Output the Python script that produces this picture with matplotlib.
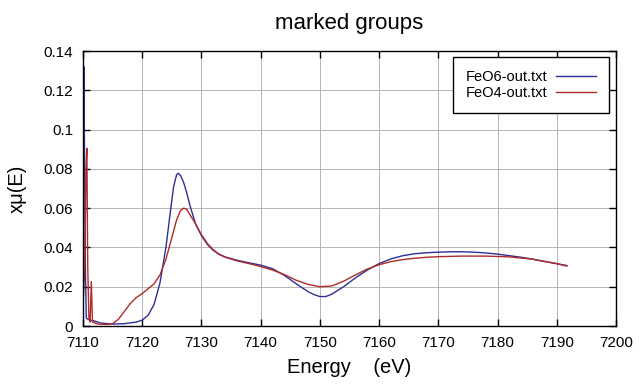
# XANES plot for the two marked groups (FeO6 vs FeO4)
import matplotlib
matplotlib.use('Agg')
import matplotlib.pyplot as plt

plt.rcParams['font.family'] = ['Liberation Sans', 'DejaVu Sans']

# FeO6-out.txt
feo6_energy = [7110.0, 7110.08, 7110.15, 7110.25, 7110.4, 7110.55, 7110.8, 7111.2, 7112, 7113,
               7115, 7117, 7119, 7120, 7121, 7122, 7123, 7124, 7124.7, 7125.3,
               7125.8, 7126.1, 7126.5, 7127, 7127.5, 7128, 7128.5, 7129, 7130, 7131,
               7132, 7133, 7134, 7136, 7138, 7140, 7142, 7144, 7146, 7148,
               7149, 7150, 7151, 7152, 7154, 7156, 7158, 7160, 7162, 7164,
               7166, 7168, 7170, 7172, 7174, 7176, 7178, 7180, 7182, 7184,
               7186, 7188, 7190, 7191.7]
feo6_mu = [0.030, 0.110, 0.132, 0.090, 0.030, 0.004, 0.0035, 0.003, 0.0025, 0.0015,
           0.0010, 0.0012, 0.0020, 0.0030, 0.0055, 0.011, 0.022, 0.040, 0.057, 0.071,
           0.0770, 0.0778, 0.0765, 0.073, 0.068, 0.062, 0.057, 0.052, 0.046, 0.0415,
           0.0385, 0.0365, 0.0352, 0.0335, 0.0322, 0.0310, 0.0292, 0.0258, 0.0215, 0.0175,
           0.0160, 0.0150, 0.0150, 0.0162, 0.0200, 0.0245, 0.0285, 0.0318, 0.0342, 0.0358,
           0.0368, 0.0373, 0.0376, 0.0378, 0.0378, 0.0376, 0.0372, 0.0366, 0.0358, 0.0350,
           0.0340, 0.0328, 0.0317, 0.0308]

# FeO4-out.txt
feo4_energy = [7110.0, 7110.3, 7110.5, 7110.65, 7110.8, 7111.0, 7111.2, 7111.4, 7111.6, 7112.5,
               7114, 7115, 7116, 7117, 7118, 7119, 7120, 7121, 7122, 7123,
               7124, 7125, 7125.8, 7126.5, 7127, 7127.5, 7128, 7129, 7130, 7131,
               7132, 7133, 7134, 7136, 7138, 7140, 7142, 7144, 7146, 7148,
               7150, 7152, 7154, 7156, 7158, 7160, 7162, 7164, 7166, 7168,
               7170, 7174, 7178, 7182, 7186, 7190, 7191.7]
feo4_mu = [0.010, 0.030, 0.080, 0.0905, 0.030, 0.004, 0.002, 0.0226, 0.002, 0.0010,
           0.0008, 0.0012, 0.0035, 0.0075, 0.0115, 0.0145, 0.0165, 0.0190, 0.0215, 0.026,
           0.034, 0.045, 0.054, 0.0590, 0.0600, 0.0595, 0.057, 0.052, 0.0465, 0.042,
           0.0388, 0.0365, 0.0350, 0.0332, 0.0318, 0.0303, 0.0285, 0.0262, 0.0233, 0.0212,
           0.0200, 0.0204, 0.0228, 0.0260, 0.0290, 0.0312, 0.0328, 0.0338, 0.0345, 0.0350,
           0.0353, 0.0356, 0.0356, 0.0352, 0.0340, 0.0318, 0.0305]

xticks = list(range(7110, 7201, 10))
yticks = [0, 0.02, 0.04, 0.06, 0.08, 0.1, 0.12, 0.14]
ytick_labels = ['0', '0.02', '0.04', '0.06', '0.08', '0.1', '0.12', '0.14']

fig = plt.figure(figsize=(6.4, 3.84), dpi=100)
ax = fig.add_axes([0.1297, 0.151, 0.8328, 0.716])

ax.plot(feo6_energy, feo6_mu, color='#2e2f96', lw=1.0, label='FeO6-out.txt')
ax.plot(feo4_energy, feo4_mu, color='#b02a2a', lw=1.0, label='FeO4-out.txt')

ax.set_xlim(7110, 7200)
ax.set_ylim(0, 0.14)
ax.set_xticks(xticks)
ax.set_yticks(yticks)
ax.set_yticklabels(ytick_labels)
ax.tick_params(direction='in', length=5, width=1, labelsize=11, top=True, right=True, pad=7)
ax.grid(True, color='#b4b4b4', lw=0.7)
for s in ax.spines.values():
    s.set_linewidth(1.0)

ax.set_xlabel('Energy    (eV)', fontsize=14.5, labelpad=6)
ax.set_ylabel('xμ(E)', fontsize=14.5, labelpad=12)
fig.text(0.546, 0.94, 'marked groups', ha='center', va='center', fontsize=16)

leg = ax.legend(loc='upper right', bbox_to_anchor=(0.9516, 0.8516),
                bbox_transform=fig.transFigure, markerfirst=False, fancybox=False,
                framealpha=1, edgecolor='black', fontsize=10.5, handlelength=2.75,
                handletextpad=0.55, borderpad=0.9, labelspacing=0.15, borderaxespad=0)
leg.get_frame().set_linewidth(1.0)

plt.savefig('out.png')
